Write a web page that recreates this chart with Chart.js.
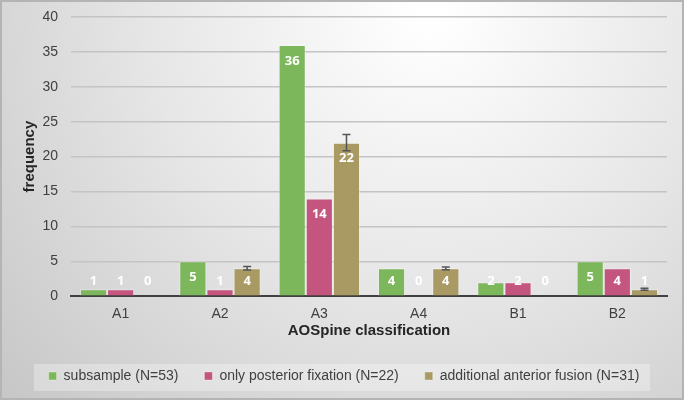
<!DOCTYPE html>
<html>
<head>
<meta charset="utf-8">
<script src="https://cdn.jsdelivr.net/npm/chart.js@4/dist/chart.umd.min.js"></script>
<style>
  body { margin: 0; background: #fff; }
  canvas { display: block; }
</style>
</head>
<body>
<canvas id="chart" width="684" height="400"></canvas>
<script>
// values
const categories = ['A1', 'A2', 'A3', 'A4', 'B1', 'B2'];
const subsample = [1, 5, 36, 4, 2, 5];
const posteriorOnly = [1, 1, 14, 0, 2, 4];
const anteriorFusion = [0, 4, 22, 4, 0, 1];
const anteriorError = [0, 0.25, 1.15, 0.2, 0, 0.15];
const yTicks = [0, 5, 10, 15, 20, 25, 30, 35, 40];

// gradient page background + box behind legend
const backdrop = {
  id: 'backdrop',
  beforeDraw(chart) {
    const ctx = chart.ctx;
    const w = chart.width, h = chart.height;
    ctx.save();
    const g = ctx.createRadialGradient(430, 10, 10, 430, 10, 620);
    g.addColorStop(0, '#ffffff');
    g.addColorStop(0.45, '#e6e6e6');
    g.addColorStop(1, '#c2c2c2');
    ctx.fillStyle = g;
    ctx.fillRect(0, 0, w, h);
    // frame
    ctx.strokeStyle = '#b4b4b4';
    ctx.lineWidth = 2;
    ctx.strokeRect(1, 1, w - 2, h - 2);
    // legend box
    ctx.fillStyle = 'rgba(255,255,255,0.3)';
    ctx.fillRect(34, 364, 616, 27);
    ctx.restore();
  }
};

// value labels and error bars
const barExtras = {
  id: 'barExtras',
  afterDatasetsDraw(chart) {
    const ctx = chart.ctx;
    const yScale = chart.scales.y;
    const base = yScale.getPixelForValue(0);
    ctx.save();
    // error bars on the third series
    const meta3 = chart.getDatasetMeta(2);
    ctx.strokeStyle = '#555555';
    ctx.lineWidth = 1.5;
    meta3.data.forEach((bar, i) => {
      const e = anteriorError[i];
      if (!e) return;
      const v = anteriorFusion[i];
      const y1 = yScale.getPixelForValue(v + e);
      const y2 = yScale.getPixelForValue(v - e);
      ctx.beginPath();
      ctx.moveTo(bar.x, y1); ctx.lineTo(bar.x, y2);
      ctx.moveTo(bar.x - 4, y1); ctx.lineTo(bar.x + 4, y1);
      ctx.moveTo(bar.x - 4, y2); ctx.lineTo(bar.x + 4, y2);
      ctx.stroke();
    });
    ctx.fillStyle = '#ffffff';
    ctx.font = 'bold 13px "Open Sans", sans-serif';
    ctx.textAlign = 'center';
    ctx.textBaseline = 'middle';
    chart.data.datasets.forEach((ds, di) => {
      const meta = chart.getDatasetMeta(di);
      meta.data.forEach((bar, i) => {
        const y = Math.min(bar.y + 16, base - 15);
        ctx.fillText(String(ds.data[i]), bar.x, y);
      });
    });
    ctx.restore();
  }
};

new Chart(document.getElementById('chart'), {
  type: 'bar',
  data: {
    labels: categories,
    datasets: [
      { label: 'subsample (N=53)', data: subsample, backgroundColor: '#7db75c', borderColor: 'rgba(255,255,255,0.35)', borderWidth: 1 },
      { label: 'only posterior fixation (N=22)', data: posteriorOnly, backgroundColor: '#c4557f', borderColor: 'rgba(255,255,255,0.35)', borderWidth: 1 },
      { label: 'additional anterior fusion (N=31)', data: anteriorFusion, backgroundColor: '#a99962', borderColor: 'rgba(255,255,255,0.35)', borderWidth: 1 }
    ]
  },
  options: {
    responsive: false,
    animation: false,
    layout: { padding: { left: 21, right: 17, top: 17, bottom: 7 } },
    datasets: { bar: { categoryPercentage: 0.82, barPercentage: 1 } },
    plugins: {
      tooltip: { enabled: false },
      legend: {
        position: 'bottom',
        labels: {
          boxWidth: 8,
          boxHeight: 8,
          padding: 26,
          color: '#404040',
          font: { family: 'Liberation Sans, Arial, sans-serif', size: 14 }
        }
      }
    },
    scales: {
      x: {
        grid: { display: false, drawTicks: false },
        border: { color: '#404040', width: 2 },
        ticks: { color: '#404040', padding: 10, font: { family: 'Liberation Sans, Arial, sans-serif', size: 14 } },
        title: {
          display: true,
          text: 'AOSpine classification',
          color: '#262626',
          padding: { top: -11, bottom: 3 },
          font: { family: 'Liberation Sans, Arial, sans-serif', size: 15, weight: 'bold' }
        }
      },
      y: {
        min: 0,
        max: 40,
        afterFit(scale) {
          scale.width = 50;
          scale.paddingTop = 0;
          scale.paddingBottom = 0;
        },
        afterBuildTicks(scale) { scale.ticks = yTicks.map(v => ({ value: v })); },
        grid: { color: '#c4c4c4', lineWidth: 1.5, drawTicks: false },
        border: { display: false },
        ticks: { color: '#404040', padding: 13, font: { family: 'Liberation Sans, Arial, sans-serif', size: 14 } },
        title: {
          display: true,
          text: 'frequency',
          color: '#262626',
          padding: { top: 0, bottom: 0 },
          font: { family: 'Liberation Sans, Arial, sans-serif', size: 15, weight: 'bold' }
        }
      }
    }
  },
  plugins: [backdrop, barExtras]
});
</script>
</body>
</html>
